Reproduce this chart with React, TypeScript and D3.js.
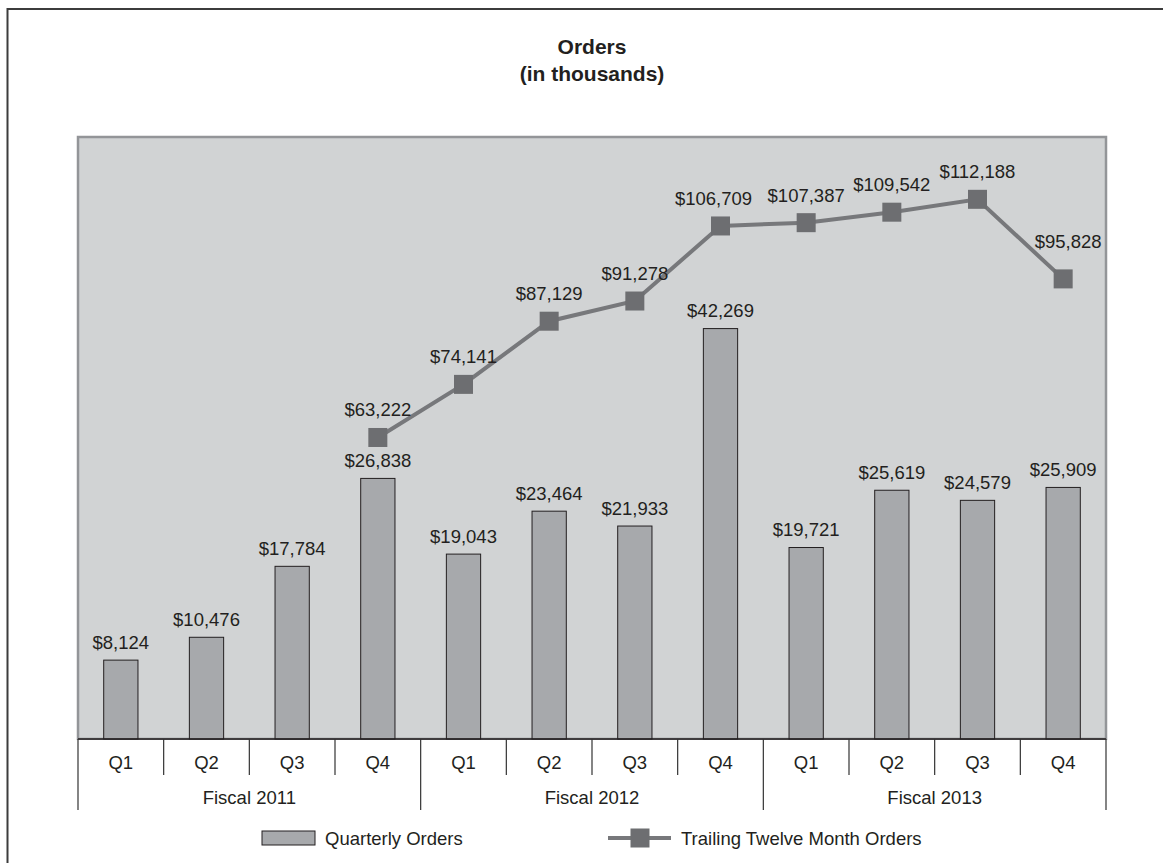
import React from "react"
import * as d3 from "d3"

const quarters = ["Q1", "Q2", "Q3", "Q4", "Q1", "Q2", "Q3", "Q4", "Q1", "Q2", "Q3", "Q4"]
const fiscalYears = ["Fiscal 2011", "Fiscal 2012", "Fiscal 2013"]
const quarterlyOrders = [8124, 10476, 17784, 26838, 19043, 23464, 21933, 42269, 19721, 25619, 24579, 25909]
// trailing twelve months only starts at the 4th quarter
const ttmOrders = [null, null, null, 63222, 74141, 87129, 91278, 106709, 107387, 109542, 112188, 95828]

const W = 1163
const H = 863
const left = 78
const right = 1106
const top = 137
const base = 739
const font = "'Liberation Sans', Arial, sans-serif"
const ink = "#231f20"

const fmt = (v: number) => "$" + d3.format(",")(v)

export default function App() {
  const x = d3.scaleBand<number>()
    .domain(quarters.map((_, i) => i))
    .range([left, right])
    .padding(0)
  const bw = x.bandwidth()
  const barW = bw * 0.4
  const cx = (i: number) => (x(i) as number) + bw / 2

  const yBar = d3.scaleLinear().domain([0, 62000]).range([base, top])
  const yLine = d3.scaleLinear().domain([0, 125000]).range([745, top])

  const linePts = ttmOrders
    .map((v, i) => ({ v, i }))
    .filter(d => d.v !== null) as { v: number; i: number }[]

  const line = d3.line<{ v: number; i: number }>()
    .x(d => cx(d.i))
    .y(d => yLine(d.v))

  // a couple of labels were nudged in the original
  const labelNudge = (i: number) => {
    if (i === 7) return { dx: -7, dy: 0 }
    if (i === 11) return { dx: 5, dy: -10 }
    return { dx: 0, dy: 0 }
  }

  const yearW = bw * 4
  const legendY = 838

  return (
    <svg width={W} height={H} style={{ position: "absolute", left: 0, top: 0 }} fontFamily={font}>
      <rect x={0} y={0} width={W} height={H} fill="#fff" />
      <rect x={7.5} y={9} width={1180} height={900} fill="none" stroke="#3c3c3c" strokeWidth={2} />

      {/* title */}
      <text x={(left + right) / 2} y={54} textAnchor="middle" fontSize={21} fontWeight="bold" fill={ink}>Orders</text>
      <text x={(left + right) / 2} y={81} textAnchor="middle" fontSize={21} fontWeight="bold" fill={ink}>(in thousands)</text>

      {/* plot area */}
      <rect x={left} y={top} width={right - left} height={base - top} fill="#d1d3d4" stroke="#939598" strokeWidth={2.5} />

      {/* bars */}
      {quarterlyOrders.map((v, i) => (
        <g key={"b" + i}>
          <rect x={cx(i) - barW / 2} y={yBar(v)} width={barW} height={base - yBar(v)}
            fill="#a7a9ac" stroke={ink} strokeWidth={1} />
          <text x={cx(i)} y={yBar(v) - 11.5} textAnchor="middle" fontSize={18.5} fill={ink}>{fmt(v)}</text>
        </g>
      ))}

      {/* trailing twelve month line */}
      <path d={line(linePts) || ""} fill="none" stroke="#77787b" strokeWidth={4} />
      {linePts.map(d => {
        const n = labelNudge(d.i)
        return (
          <g key={"m" + d.i}>
            <rect x={cx(d.i) - 9.5} y={yLine(d.v) - 9.5} width={19} height={19} fill="#6d6e71" />
            <text x={cx(d.i) + n.dx} y={yLine(d.v) - 21 + n.dy} textAnchor="middle" fontSize={18.5} fill={ink}>{fmt(d.v)}</text>
          </g>
        )
      })}

      {/* category axis */}
      <rect x={left - 1.5} y={base + 1} width={right - left + 3} height={80} fill="#fff" />
      <line x1={left} x2={right} y1={base} y2={base} stroke={ink} strokeWidth={1.5} />
      {quarters.map((q, i) => (
        <g key={"q" + i}>
          {i % 4 !== 0 && (
            <line x1={x(i)} x2={x(i)} y1={base} y2={775} stroke="#333" strokeWidth={1.2} />
          )}
          <text x={cx(i)} y={769} textAnchor="middle" fontSize={18.5} fill={ink}>{q}</text>
        </g>
      ))}
      {[0, 1, 2, 3].map(k => (
        <line key={"f" + k} x1={left + k * yearW} x2={left + k * yearW} y1={base} y2={810} stroke="#333" strokeWidth={1.2} />
      ))}
      {fiscalYears.map((f, k) => (
        <text key={f} x={left + (k + 0.5) * yearW} y={804} textAnchor="middle" fontSize={18.5} fill={ink}>{f}</text>
      ))}

      {/* legend */}
      <rect x={262} y={legendY - 7} width={53} height={14} fill="#a7a9ac" stroke={ink} strokeWidth={1} />
      <text x={325} y={legendY + 6.5} fontSize={18.5} fill={ink}>Quarterly Orders</text>
      <line x1={608} x2={671} y1={legendY} y2={legendY} stroke="#77787b" strokeWidth={4} />
      <rect x={630.5} y={legendY - 9.5} width={19} height={19} fill="#6d6e71" />
      <text x={681} y={legendY + 6.5} fontSize={18.5} fill={ink}>Trailing Twelve Month Orders</text>
    </svg>
  )
}
